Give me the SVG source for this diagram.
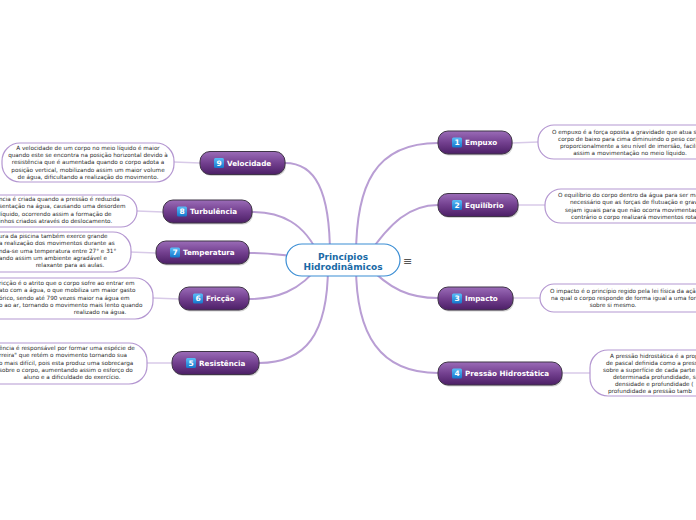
<svg xmlns="http://www.w3.org/2000/svg" width="696" height="520" viewBox="0 0 696 520">
<defs>
<linearGradient id="gNode" x1="0" y1="0" x2="0" y2="1">
<stop offset="0" stop-color="#9b6cb8"/>
<stop offset="0.5" stop-color="#73408f"/>
<stop offset="1" stop-color="#4c1f66"/>
</linearGradient>
<linearGradient id="gBadge" x1="0" y1="0" x2="0" y2="1">
<stop offset="0" stop-color="#5bbcf7"/>
<stop offset="1" stop-color="#1577cc"/>
</linearGradient>
</defs>
<style>
.node{fill:url(#gNode);stroke:#3f3447;stroke-width:1}
.sh{fill:#000;opacity:0.18}
.badge{fill:url(#gBadge)}
.num{font-family:"DejaVu Sans",sans-serif;font-weight:bold;font-size:7.5px;fill:#fff;text-anchor:middle}
.lbl{font-family:"DejaVu Sans",sans-serif;font-weight:bold;font-size:7.2px;fill:#fff}
.box{fill:#fff;stroke:#b497d1;stroke-width:1.2}
.bt{font-family:"DejaVu Sans",sans-serif;font-size:5.7px;fill:#2a2a2a}
.m{text-anchor:middle}
.curve{fill:none;stroke:#b99ed4;stroke-width:2}
.thin{fill:none;stroke:#d8cae8;stroke-width:1.5}
.root{fill:#fff;stroke:#3b8ed4;stroke-width:1.2}
.rt{font-family:"DejaVu Sans",sans-serif;font-weight:bold;font-size:9px;fill:#1a6aa6;text-anchor:middle}
</style>
<rect width="696" height="520" fill="#fff"/>
<g id="connectors">
<path class="curve" d="M330,256 C330,190 315,163 285,163"/>
<path class="curve" d="M320,258 C305,222 280,212 252,212"/>
<path class="curve" d="M320,261 C290,255 270,253 249,253"/>
<path class="curve" d="M320,264 C300,292 275,299 249,299"/>
<path class="curve" d="M328,266 C328,335 305,363 259,363"/>
<path class="curve" d="M356,256 C356,185 375,143 438,143"/>
<path class="curve" d="M366,258 C390,222 410,205 438,205"/>
<path class="curve" d="M366,264 C390,290 410,298 438,298"/>
<path class="curve" d="M356,266 C356,335 380,373 438,373"/>
<path class="thin" d="M200,163 L174,162"/>
<path class="thin" d="M163,212 L137,211"/>
<path class="thin" d="M156,253 L130,252"/>
<path class="thin" d="M179,299 L153,298"/>
<path class="thin" d="M172,363 L147,363"/>
<path class="thin" d="M512,143 L538,142"/>
<path class="thin" d="M518,205 L545,205"/>
<path class="thin" d="M513,298 L540,298"/>
<path class="thin" d="M562,373 L590,373"/>
</g>
<g id="root">
<rect class="root" x="286" y="244" width="114" height="32" rx="16"/>
<text class="rt" x="343" y="259.5">Princípios</text>
<text class="rt" x="343" y="269.5">Hidrodinâmicos</text>
<text x="407.5" y="265" font-family="DejaVu Sans,sans-serif" font-size="11" fill="#555" text-anchor="middle">≡</text>
</g>
<g id="n-empuxo">
<rect class="sh" x="439" y="132.5" width="74" height="23" rx="10"/>
<rect class="node" x="438" y="131" width="74" height="23" rx="10"/>
<rect class="badge" x="452" y="137.5" width="10" height="10" rx="1.5"/>
<text class="num" x="457" y="145.3">1</text>
<text class="lbl" x="465" y="145.3">Empuxo</text>
</g>
<g id="n-equilibrio">
<rect class="sh" x="439" y="195" width="80" height="23" rx="10"/>
<rect class="node" x="438" y="193.5" width="80" height="23" rx="10"/>
<rect class="badge" x="452" y="200" width="10" height="10" rx="1.5"/>
<text class="num" x="457" y="207.8">2</text>
<text class="lbl" x="465" y="207.8">Equilíbrio</text>
</g>
<g id="n-impacto">
<rect class="sh" x="439" y="288.5" width="75" height="23" rx="10"/>
<rect class="node" x="438" y="287" width="75" height="23" rx="10"/>
<rect class="badge" x="452" y="293.5" width="10" height="10" rx="1.5"/>
<text class="num" x="457" y="301.3">3</text>
<text class="lbl" x="465" y="301.3">Impacto</text>
</g>
<g id="n-pressao">
<rect class="sh" x="439" y="363.5" width="124" height="23" rx="10"/>
<rect class="node" x="438" y="362" width="124" height="23" rx="10"/>
<rect class="badge" x="452" y="368.5" width="10" height="10" rx="1.5"/>
<text class="num" x="457" y="376.3">4</text>
<text class="lbl" x="465" y="376.3">Pressão Hidrostática</text>
</g>
<g id="n-resistencia">
<rect class="sh" x="173" y="353" width="87" height="23" rx="10"/>
<rect class="node" x="172" y="351.5" width="87" height="23" rx="10"/>
<rect class="badge" x="186" y="358" width="10" height="10" rx="1.5"/>
<text class="num" x="191" y="365.8">5</text>
<text class="lbl" x="199" y="365.8">Resistência</text>
</g>
<g id="n-friccao">
<rect class="sh" x="180" y="288.5" width="70" height="23" rx="10"/>
<rect class="node" x="179" y="287" width="70" height="23" rx="10"/>
<rect class="badge" x="193" y="293.5" width="10" height="10" rx="1.5"/>
<text class="num" x="198" y="301.3">6</text>
<text class="lbl" x="206" y="301.3">Fricção</text>
</g>
<g id="n-temperatura">
<rect class="sh" x="157" y="242.5" width="93" height="23" rx="10"/>
<rect class="node" x="156" y="241" width="93" height="23" rx="10"/>
<rect class="badge" x="170" y="247.5" width="10" height="10" rx="1.5"/>
<text class="num" x="175" y="255.3">7</text>
<text class="lbl" x="183" y="255.3">Temperatura</text>
</g>
<g id="n-turbulencia">
<rect class="sh" x="164" y="201.5" width="89" height="23" rx="10"/>
<rect class="node" x="163" y="200" width="89" height="23" rx="10"/>
<rect class="badge" x="177" y="206.5" width="10" height="10" rx="1.5"/>
<text class="num" x="182" y="214.3">8</text>
<text class="lbl" x="190" y="214.3">Turbulência</text>
</g>
<g id="n-velocidade">
<rect class="sh" x="201" y="153" width="85" height="23" rx="10"/>
<rect class="node" x="200" y="151.5" width="85" height="23" rx="10"/>
<rect class="badge" x="214" y="158" width="10" height="10" rx="1.5"/>
<text class="num" x="219" y="165.8">9</text>
<text class="lbl" x="227" y="165.8">Velocidade</text>
</g>
<g id="t-velocidade">
<rect class="box" x="2" y="143" width="172" height="39" rx="18"/>
<text class="bt m" x="88" y="149.5">A velocidade de um corpo no meio líquido é maior</text>
<text class="bt m" x="88" y="156.9">quando este se encontra na posição horizontal devido à</text>
<text class="bt m" x="88" y="164.3">resistência que é aumentada quando o corpo adota a</text>
<text class="bt m" x="88" y="171.7">posição vertical, mobilizando assim um maior volume</text>
<text class="bt m" x="88" y="179.1">de água, dificultando a realização do movimento.</text>
</g>
<g id="t-turbulencia">
<rect class="box" x="-40" y="195" width="177" height="32" rx="16"/>
<text class="bt" x="-1" y="201">ncia é criada quando a pressão é reduzida</text>
<text class="bt" x="-1" y="208.4">sentação na água, causando uma desordem</text>
<text class="bt" x="-1" y="215.8">líquido, ocorrendo assim a formação de</text>
<text class="bt" x="-1" y="223.2">inhos criados através do deslocamento.</text>
</g>
<g id="t-temperatura">
<rect class="box" x="-40" y="232" width="171" height="40" rx="18"/>
<text class="bt" x="-1" y="238">ura da piscina também exerce grande</text>
<text class="bt" x="-1" y="245.3">a realização dos movimentos durante as</text>
<text class="bt" x="-1" y="252.6">nda-se uma temperatura entre 27° e 31°</text>
<text class="bt" x="-1" y="259.9">ando assim um ambiente agradável e</text>
<text class="bt m" x="70" y="267.2">relaxante para as aulas.</text>
</g>
<g id="t-friccao">
<rect class="box" x="-30" y="278" width="183" height="41" rx="18"/>
<text class="bt" x="-1" y="285">ricção é o atrito que o corpo sofre ao entrar em</text>
<text class="bt" x="-1" y="292.3">ato com a água, o que mobiliza um maior gasto</text>
<text class="bt" x="-1" y="299.6">órico, sendo até 790 vezes maior na água em</text>
<text class="bt" x="-1" y="306.9">o ao ar, tornando o movimento mais lento quando</text>
<text class="bt m" x="100" y="314.2">realizado na água.</text>
</g>
<g id="t-resistencia">
<rect class="box" x="-30" y="343" width="177" height="41" rx="18"/>
<text class="bt" x="-1" y="350">ência é responsável por formar uma espécie de</text>
<text class="bt" x="-1" y="357.3">rreira" que retém o movimento tornando sua</text>
<text class="bt" x="-1" y="364.6">o mais difícil, pois esta produz uma sobrecarga</text>
<text class="bt" x="-1" y="371.9">sobre o corpo, aumentando assim o esforço do</text>
<text class="bt m" x="72" y="379.2">aluno e a dificuldade do exercício.</text>
</g>
<g id="t-empuxo">
<rect class="box" x="538" y="125" width="200" height="34" rx="16"/>
<text class="bt" x="552" y="133.5">O empuxo é a força oposta a gravidade que atua s</text>
<text class="bt" x="558" y="140.8">corpo de baixo para cima diminuindo o peso corp</text>
<text class="bt" x="560" y="148.1">proporcionalmente a seu nível de imersão, facilit</text>
<text class="bt m" x="630" y="155.4">assim a movimentação no meio líquido.</text>
</g>
<g id="t-equilibrio">
<rect class="box" x="545" y="189" width="200" height="34" rx="16"/>
<text class="bt" x="558" y="197">O equilíbrio do corpo dentro da água para ser ma</text>
<text class="bt" x="570" y="204.3">necessário que as forças de flutuação e gravi</text>
<text class="bt" x="565" y="211.6">sejam iguais para que não ocorra movimentação</text>
<text class="bt" x="571" y="218.9">contrário o corpo realizará movimentos rotató</text>
</g>
<g id="t-impacto">
<rect class="box" x="540" y="284" width="200" height="28" rx="14"/>
<text class="bt" x="550" y="292.7">O impacto é o princípio regido pela lei física da açã</text>
<text class="bt" x="551" y="300">na qual o corpo responde de forma igual a uma forç</text>
<text class="bt m" x="613" y="307.3">sobre si mesmo.</text>
</g>
<g id="t-pressao">
<rect class="box" x="590" y="350" width="150" height="46" rx="18"/>
<text class="bt" x="610" y="357.5">A pressão hidrostática é a prop</text>
<text class="bt" x="606" y="364.5">de pascal definida como a press</text>
<text class="bt" x="603" y="371.5">sobre a superfície de cada parte</text>
<text class="bt" x="613" y="378.5">determinada profundidade, se</text>
<text class="bt" x="615" y="385.5">densidade e profundidade (</text>
<text class="bt" x="608" y="392.5">profundidade a pressão tamb</text>
</g>
</svg>
